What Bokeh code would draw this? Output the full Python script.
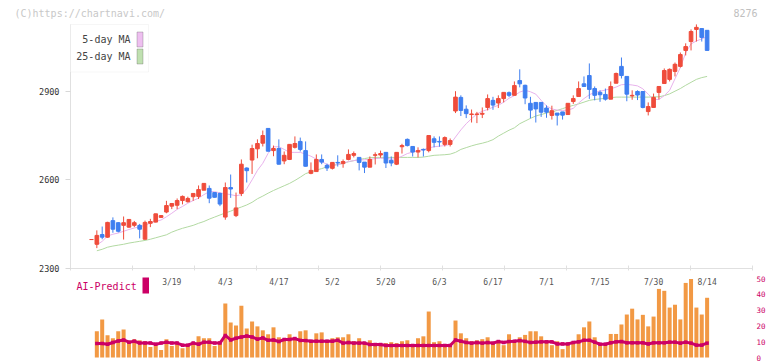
import numpy as np
from bokeh.plotting import figure
from bokeh.models import ColumnDataSource, Range1d, LinearAxis, FixedTicker, Label, BoxAnnotation, Grid
from bokeh.core.properties import value
from bokeh.embed import file_html
from bokeh.resources import INLINE

# ---------------- data ----------------
opens = [2398, 2382, 2415, 2406, 2462, 2455, 2446, 2440, 2446, 2446,
         2399, 2453, 2457, 2473, 2491, 2511, 2514, 2530, 2526, 2543,
         2544, 2565, 2571, 2557, 2554, 2474, 2574, 2479, 2554, 2640,
         2667, 2705, 2724, 2774, 2699, 2706, 2664, 2669, 2710, 2730,
         2699, 2622, 2628, 2669, 2649, 2639, 2659, 2655, 2669, 2683,
         2676, 2660, 2643, 2683, 2684, 2693, 2666, 2653, 2712, 2737,
         2713, 2694, 2703, 2699, 2739, 2730, 2720, 2720, 2833, 2879,
         2839, 2821, 2821, 2822, 2845, 2869, 2860, 2875, 2895, 2886,
         2936, 2920, 2859, 2862, 2862, 2843, 2818, 2826, 2830, 2821,
         2865, 2882, 2925, 2953, 2909, 2896, 2889, 2873, 2927, 2984,
         2950, 2884, 2899, 2899, 2831, 2845, 2896, 2926, 2940, 2967,
         2984, 3038, 3068, 3109, 3112, 3106]
highs = [2399, 2429, 2442, 2458, 2473, 2457, 2476, 2466, 2461, 2451,
         2462, 2468, 2485, 2481, 2529, 2520, 2537, 2547, 2543, 2554,
         2581, 2588, 2581, 2557, 2557, 2591, 2618, 2557, 2669, 2642,
         2719, 2737, 2767, 2775, 2716, 2737, 2696, 2721, 2747, 2743,
         2730, 2659, 2686, 2686, 2655, 2660, 2683, 2669, 2703, 2696,
         2676, 2660, 2679, 2693, 2699, 2693, 2679, 2694, 2722, 2740,
         2713, 2710, 2706, 2751, 2747, 2747, 2747, 2740, 2900, 2886,
         2852, 2838, 2830, 2845, 2889, 2881, 2886, 2896, 2899, 2933,
         2974, 2922, 2881, 2862, 2862, 2852, 2851, 2826, 2830, 2859,
         2886, 2933, 2950, 2994, 2916, 2903, 2909, 2933, 2963, 3014,
         2950, 2903, 2903, 2899, 2862, 2892, 2916, 2977, 2977, 2997,
         3031, 3062, 3109, 3126, 3112, 3106]
lows = [2397, 2369, 2399, 2404, 2421, 2422, 2398, 2438, 2440, 2402,
        2398, 2440, 2456, 2472, 2487, 2501, 2501, 2517, 2523, 2529,
        2535, 2565, 2521, 2540, 2511, 2465, 2539, 2474, 2545, 2591,
        2620, 2673, 2713, 2696, 2680, 2652, 2653, 2667, 2706, 2696,
        2645, 2619, 2627, 2653, 2630, 2635, 2645, 2641, 2666, 2676,
        2632, 2623, 2643, 2652, 2675, 2640, 2646, 2650, 2689, 2713,
        2679, 2676, 2679, 2693, 2710, 2712, 2713, 2713, 2826, 2816,
        2809, 2794, 2792, 2809, 2835, 2837, 2843, 2862, 2880, 2886,
        2913, 2856, 2808, 2794, 2813, 2810, 2804, 2784, 2804, 2821,
        2857, 2882, 2916, 2874, 2869, 2864, 2868, 2873, 2927, 2943,
        2866, 2871, 2870, 2842, 2818, 2845, 2872, 2926, 2933, 2950,
        2980, 3021, 3038, 3068, 3068, 3038]
closes = [2398, 2412, 2406, 2456, 2433, 2426, 2455, 2466, 2455, 2433,
          2456, 2459, 2485, 2479, 2513, 2520, 2530, 2544, 2537, 2554,
          2567, 2588, 2538, 2541, 2518, 2574, 2569, 2505, 2653, 2631,
          2706, 2723, 2750, 2697, 2706, 2653, 2683, 2720, 2723, 2703,
          2646, 2632, 2669, 2660, 2640, 2659, 2657, 2662, 2686, 2689,
          2659, 2643, 2669, 2685, 2689, 2657, 2657, 2693, 2716, 2716,
          2694, 2699, 2701, 2750, 2727, 2728, 2743, 2733, 2880, 2835,
          2824, 2823, 2823, 2825, 2875, 2853, 2875, 2896, 2886, 2919,
          2925, 2877, 2836, 2840, 2829, 2829, 2834, 2819, 2819, 2859,
          2875, 2909, 2916, 2906, 2886, 2888, 2873, 2916, 2960, 2953,
          2890, 2886, 2887, 2845, 2848, 2879, 2916, 2970, 2974, 2991,
          3024, 3051, 3102, 3116, 3082, 3038]
nan = float("nan")
ma5 = [nan, 2380, 2392, 2410, 2416, 2420, 2426, 2432, 2437, 2441,
       2446, 2454, 2460, 2464, 2475, 2487, 2500, 2510, 2521, 2530,
       2538, 2550, 2560, 2560, 2556, 2553, 2550, 2546, 2550, 2570,
       2600, 2632, 2656, 2690, 2712, 2712, 2703, 2693, 2693, 2693,
       2687, 2680, 2670, 2662, 2652, 2649, 2651, 2656, 2662, 2665,
       2667, 2668, 2669, 2672, 2673, 2673, 2670, 2672, 2680, 2689,
       2694, 2699, 2702, 2708, 2712, 2714, 2716, 2720, 2745, 2769,
       2790, 2807, 2823, 2832, 2838, 2846, 2852, 2863, 2876, 2885,
       2897, 2903, 2898, 2890, 2869, 2850, 2840, 2836, 2835, 2836,
       2842, 2860, 2875, 2888, 2896, 2900, 2904, 2908, 2914, 2922,
       2923, 2921, 2918, 2908, 2890, 2872, 2872, 2885, 2903, 2942,
       2980, 3030, 3060, 3070, 3077, 3085]
ma25 = [nan, 2360, 2365, 2372, 2376, 2379, 2382, 2386, 2389, 2392,
        2395, 2399, 2404, 2409, 2414, 2423, 2430, 2436, 2441, 2446,
        2453, 2459, 2467, 2474, 2481, 2488, 2494, 2502, 2508, 2515,
        2524, 2536, 2545, 2555, 2564, 2572, 2580, 2588, 2598, 2609,
        2621, 2627, 2633, 2638, 2644, 2649, 2652, 2656, 2661, 2665,
        2669, 2672, 2675, 2676, 2676, 2676, 2676, 2676, 2676, 2676,
        2676, 2676, 2677, 2680, 2683, 2684, 2685, 2687, 2693, 2703,
        2709, 2715, 2720, 2724, 2729, 2736, 2748, 2758, 2768, 2776,
        2790, 2799, 2808, 2816, 2821, 2826, 2830, 2835, 2841, 2847,
        2852, 2857, 2863, 2869, 2872, 2874, 2876, 2878, 2880, 2880,
        2880, 2880, 2880, 2880, 2880, 2881, 2881, 2885, 2891, 2900,
        2909, 2920, 2930, 2940, 2946, 2950]
volume = [nan, 16.6, 24.1, 14.1, 12.2, 16.6, 17.8, 9.9, 11.6, 10.9,
          10.3, 6.6, 7.8, 4.7, 11.6, 7.2, 9.1, 5.9, 7.2, 9.1,
          13.4, 12.2, 12.2, 7.2, 10.3, 34.1, 22.2, 20.3, 32.8, 18.4,
          22.8, 19.7, 17.2, 14.7, 19.1, 12.8, 11.6, 14.7, 12.2, 16.6,
          17.2, 10.9, 15.3, 15.9, 10.3, 12.2, 12.8, 12.8, 14.7, 10.3,
          12.2, 9.1, 10.9, 8.4, 8.4, 9.1, 9.7, 9.1, 10.3, 10.9,
          8.4, 12.2, 13.4, 29.1, 9.7, 10.3, 7.8, 7.8, 23.4, 15.3,
          12.2, 10.3, 10.9, 11.6, 12.8, 9.7, 10.3, 7.8, 14.7, 10.3,
          12.8, 14.3, 16.6, 16.6, 13.4, 10.3, 7.8, 10.3, 5.3, 8.0,
          9.1, 14.7, 19.1, 22.8, 12.8, 9.1, 9.1, 14.9, 14.9, 20.9,
          27.2, 30.9, 24.1, 27.0, 19.7, 25.9, 43.4, 42.2, 31.6, 33.4,
          24.1, 47.2, 49.7, 31.6, 27.2, 37.8]
ai_predict = [nan, 8.85, 8.85, 8.4, 9.5, 10.5, 11.1, 9.7, 10.3, 9.1,
              9.1, 9.1, 8.4, 9.1, 9.7, 9.1, 9.1, 7.8, 7.8, 9.1,
              8.4, 9.7, 9.7, 9.1, 9.1, 14.0, 11.1, 12.2, 13.0, 13.6,
              13.0, 11.6, 12.4, 10.9, 11.1, 10.1, 11.4, 11.4, 12.0, 10.8,
              10.7, 10.3, 10.3, 10.3, 10.3, 10.3, 10.9, 9.1, 9.5, 9.1,
              9.1, 9.1, 8.2, 8.2, 8.2, 7.6, 7.6, 7.6, 7.6, 7.6,
              7.6, 7.6, 7.6, 7.6, 7.6, 7.6, 7.6, 7.6, 11.1, 10.3,
              9.5, 9.1, 9.5, 9.1, 9.5, 9.1, 10.1, 9.5, 10.1, 10.3,
              10.7, 10.2, 9.5, 9.7, 9.9, 9.9, 9.9, 8.6, 8.6, 8.6,
              9.5, 9.9, 10.9, 10.9, 9.7, 8.4, 8.4, 9.3, 9.9, 10.1,
              9.3, 9.3, 9.3, 9.3, 8.6, 9.3, 9.3, 9.3, 9.7, 9.7,
              9.1, 9.7, 9.1, 7.8, 7.8, 9.1]
date_labels = ["3/19", "4/3", "4/17", "5/2", "5/20", "6/3", "6/17", "7/1", "7/15", "7/30", "8/14"]
date_label_index = [15, 25, 35, 45, 55, 65, 75, 85, 95, 105, 115]
price_ticks = [2300, 2600, 2900]
volume_ticks = [0, 10, 20, 30, 40, 50]

# ---------------- layout constants (pixels of the page) ----------------
MONO = "DejaVu Sans Mono"
W, H = 772, 361
AX_L, AX_R, AX_T = 70, 752, 24          # price axes box
X0, X1 = -3.92, 123.48                  # index values at AX_L / AX_R
XPX = (AX_R - AX_L) / (X1 - X0)
XL, XR = X0 - AX_L / XPX, X1 + (W - AX_R) / XPX
PX_PER_YEN = 0.2955
Y_BASE_PX = 268
Y0 = 2300 - (H - Y_BASE_PX) / PX_PER_YEN
Y1 = 2300 + Y_BASE_PX / PX_PER_YEN
Y_AX_TOP = 2300 + (Y_BASE_PX - AX_T) / PX_PER_YEN
VOL_ZERO_PX, VOL_TOP_PX = 357, 278      # pixel rows of volume 0 and 50
VOL_SCALE = (VOL_ZERO_PX - VOL_TOP_PX) / 50
V0 = -(H - VOL_ZERO_PX) / VOL_SCALE
V1 = VOL_ZERO_PX / VOL_SCALE
DATE_LABEL_V = (VOL_ZERO_PX - 282) / VOL_SCALE

RED, BLUE = "#ef4c3b", "#3f7ff0"

def sx(px):
    return px

def sy(py):
    return H - py

n = len(opens)
idx = list(range(n))
src = ColumnDataSource(dict(
    x=idx, open=opens, high=highs, low=lows, close=closes,
    top=[max(o, c) for o, c in zip(opens, closes)],
    bottom=[min(o, c) for o, c in zip(opens, closes)],
    color=[RED if c >= o else BLUE for o, c in zip(opens, closes)],
))

p = figure(width=W, height=H, x_range=Range1d(XL, XR), y_range=Range1d(Y0, Y1),
           output_backend="svg", toolbar_location=None,
           x_axis_location=None, y_axis_location=None,
           min_border_left=0, min_border_right=0, min_border_top=0, min_border_bottom=0)
p.center = [r for r in p.center if not isinstance(r, Grid)]
p.outline_line_color = None
p.background_fill_color = "white"
p.border_fill_color = "white"
p.extra_y_ranges = {"vol": Range1d(V0, V1)}

# axes (drawn inside the full-canvas frame)
yaxis = LinearAxis(ticker=FixedTicker(ticks=price_ticks), bounds=(2300, Y_AX_TOP), fixed_location=X0,
                   axis_line_color="#e0e0e0", major_tick_line_color="#d8d8d8",
                   major_tick_out=5, major_tick_in=0, minor_tick_line_color=None,
                   major_label_text_font=MONO, major_label_text_font_size="8.5px",
                   major_label_text_color="#333333", major_label_standoff=6)
p.add_layout(yaxis, "left")

xaxis = LinearAxis(ticker=FixedTicker(ticks=list(np.linspace(X0, X1, 12))), fixed_location=2300,
                   bounds=(X0, X1),
                   axis_line_color="#e0e0e0", major_tick_line_color="#e0e0e0",
                   major_tick_in=3, major_tick_out=2, minor_tick_line_color=None,
                   major_label_text_color=None)
p.add_layout(xaxis, "below")

vaxis = LinearAxis(y_range_name="vol", ticker=FixedTicker(ticks=volume_ticks), fixed_location=X1,
                   bounds=(0, 50),
                   axis_line_color=None, major_tick_line_color=None, minor_tick_line_color=None,
                   major_tick_in=0, major_tick_out=0, major_label_standoff=4,
                   major_label_text_font=MONO, major_label_text_font_size="7.5px",
                   major_label_text_color="#cc0066")
p.add_layout(vaxis, "right")

# moving averages
p.line(idx, ma25, line_color="#b2d9a2", line_width=1)
p.line(idx, ma5, line_color="#e8b2ec", line_width=1)

# candles
p.segment(x0="x", y0="low", x1="x", y1="high", line_color="color", line_width=1, source=src)
p.vbar(x="x", width=0.68, top="top", bottom="bottom", fill_color="color",
       line_color="color", line_width=1, source=src)

# volume + AI predict
p.vbar(x=idx, top=volume, bottom=0, width=0.75, fill_color="#f29944", line_color=None,
       y_range_name="vol")
p.line(idx, ai_predict, line_color="#cc0066", line_width=3, y_range_name="vol")
p.scatter(idx, ai_predict, marker="square", size=3.5, fill_color="#cc0066", line_color=None,
          y_range_name="vol")

# date labels
p.text(x=date_label_index, y=[DATE_LABEL_V] * len(date_labels), text=date_labels,
       text_align="center", text_baseline="middle", text_font=value(MONO),
       text_font_size="8px", text_color="#555555", y_range_name="vol")

# header texts
p.add_layout(Label(x=sx(14), y=sy(12.5), x_units="screen", y_units="screen",
                   text="(C)https://chartnavi.com/", text_font=MONO, text_font_size="10px",
                   text_color="#c8c8c8", text_baseline="middle", text_align="left"))
p.add_layout(Label(x=sx(757), y=sy(12.5), x_units="screen", y_units="screen",
                   text="8276", text_font=MONO, text_font_size="10px",
                   text_color="#c0c0c0", text_baseline="middle", text_align="right"))

# price legend (swatch on the right of the label)
p.add_layout(BoxAnnotation(left=sx(70), right=sx(148), top=sy(24), bottom=sy(71.5),
                           left_units="screen", right_units="screen",
                           top_units="screen", bottom_units="screen",
                           fill_color="white", fill_alpha=1, line_color="#e0e0e0", line_width=1))
for label, col, yc in (("5-day MA", "#eebff0", 39), ("25-day MA", "#bfe0b0", 56)):
    p.add_layout(BoxAnnotation(left=sx(136.5), right=sx(142.5), top=sy(yc - 7.5), bottom=sy(yc + 7.5),
                               left_units="screen", right_units="screen",
                               top_units="screen", bottom_units="screen",
                               fill_color=col, fill_alpha=1, line_color="#555555", line_width=1))
    p.add_layout(Label(x=sx(130), y=sy(yc), x_units="screen", y_units="screen", text=label,
                       text_font=MONO, text_font_size="10px", text_color="#444444",
                       text_baseline="middle", text_align="right"))

# AI-Predict legend
p.add_layout(Label(x=sx(76), y=sy(286), x_units="screen", y_units="screen", text="AI-Predict",
                   text_font=MONO, text_font_size="10px", text_color="#cc0066",
                   text_baseline="middle", text_align="left"))
p.add_layout(BoxAnnotation(left=sx(142), right=sx(148.5), top=sy(277), bottom=sy(293),
                           left_units="screen", right_units="screen",
                           top_units="screen", bottom_units="screen",
                           fill_color="#cc0066", fill_alpha=1, line_color=None))

open("out.html", "w").write(file_html(p, INLINE))
